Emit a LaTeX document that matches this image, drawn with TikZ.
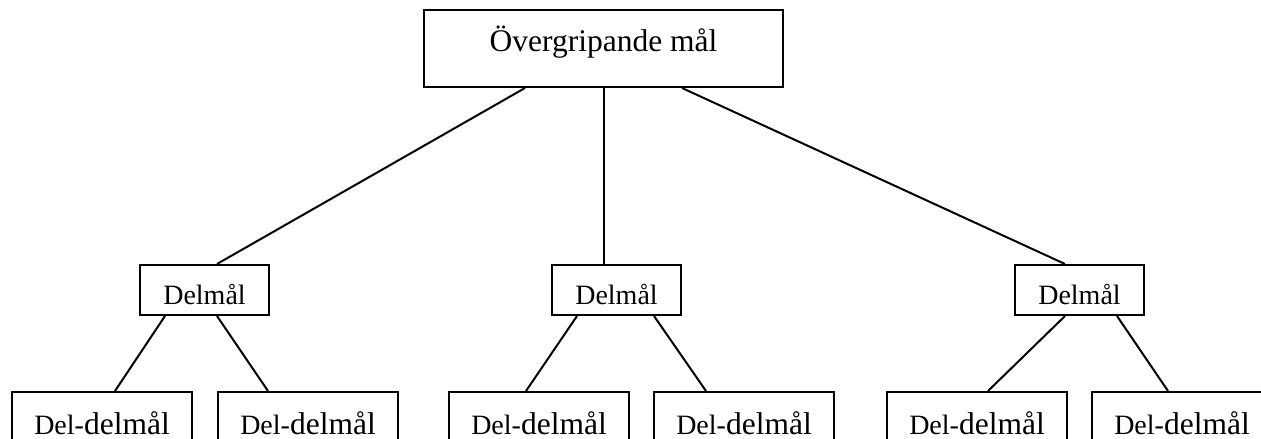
\documentclass[tikz,border=0pt]{standalone}
\usepackage{fontspec}
\setmainfont{Liberation Serif}
\usetikzlibrary{calc}
\newcommand{\bigtxt}{\fontsize{31.5}{36}\selectfont}
\newcommand{\smalltxt}{\fontsize{28}{32}\selectfont}
\begin{document}
\begin{tikzpicture}[x=1pt,y=1pt,line width=2pt,
  goalbox/.style={draw,inner sep=0pt,anchor=north west,align=center},
  topbox/.style={goalbox,minimum width=359pt,text height=41pt,text depth=36pt,font=\bigtxt},
  midbox/.style={goalbox,minimum width=129pt,text height=39pt,text depth=11pt,font=\smalltxt},
  lowbox/.style={goalbox,minimum width=180pt,text height=42pt,text depth=40pt,font=\bigtxt}]
\clip (0,0) rectangle (1261,-439);
\fill[white] (0,0) rectangle (1261,-439);
\node[topbox] (top) at (423,-9) {Övergripande mål};
\node[midbox] (d1) at (139,-264) {Delmål};
\node[midbox] (d2) at (551,-264) {Delmål};
\node[midbox] (d3) at (1014,-264) {Delmål};
\newcommand{\dd}{{\smalltxt Del-}delmål}
\node[lowbox] (b1) at (11,-391) {\dd};
\node[lowbox] (b2) at (217,-391) {\dd};
\node[lowbox] (b3) at (448,-391) {\dd};
\node[lowbox] (b4) at (653,-391) {\dd};
\node[lowbox] (b5) at (886,-391) {\dd};
\node[lowbox] (b6) at (1091,-391) {\dd};
% top to mid
\draw ($(top.south west)+(102,0)$) -- ($(d1.north west)+(78,0)$);
\draw (top.south) -- (top.south |- d2.north);
\draw ($(top.south west)+(259,0)$) -- ($(d3.north west)+(51,0)$);
% mid to low
\draw ($(d1.south west)+(26,0)$) -- ($(b1.north west)+(104,0)$);
\draw ($(d1.south west)+(78,0)$) -- ($(b2.north west)+(51,0)$);
\draw ($(d2.south west)+(26,0)$) -- ($(b3.north west)+(78,0)$);
\draw ($(d2.south west)+(103,0)$) -- ($(b4.north west)+(53,0)$);
\draw ($(d3.south west)+(51,0)$) -- ($(b5.north west)+(102,0)$);
\draw ($(d3.south west)+(103,0)$) -- ($(b6.north west)+(77,0)$);
\end{tikzpicture}
\end{document}
